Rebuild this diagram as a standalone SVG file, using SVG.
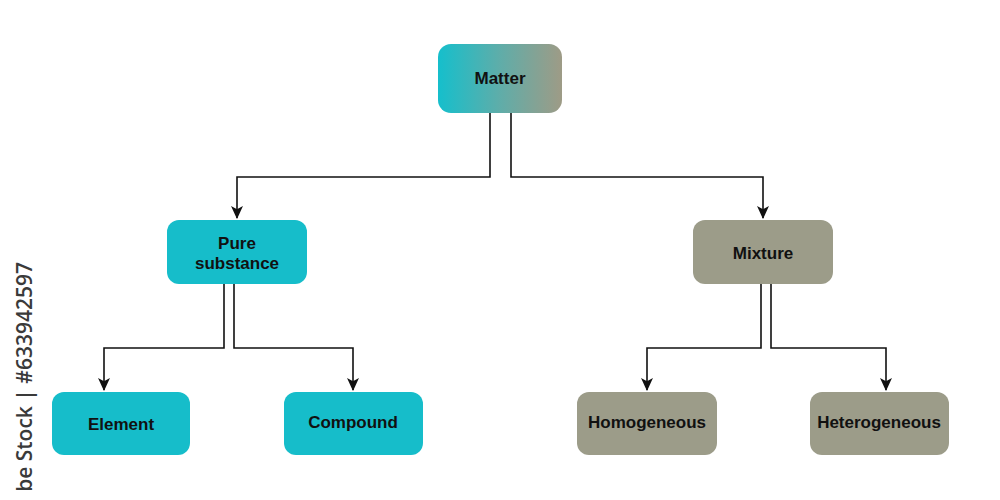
<svg xmlns="http://www.w3.org/2000/svg" width="1000" height="500" viewBox="0 0 1000 500">
  <defs>
    <linearGradient id="gMatter" x1="0" y1="0" x2="1" y2="0">
      <stop offset="0" stop-color="#15bfcc"/>
      <stop offset="0.5" stop-color="#5fada9"/>
      <stop offset="1" stop-color="#9e9b86"/>
    </linearGradient>
    <marker id="arrow" viewBox="0 0 12 12" refX="11" refY="6" markerWidth="13" markerHeight="13" markerUnits="userSpaceOnUse" orient="auto">
      <path d="M0,0.5 L12,6 L0,11.5 L3,6 Z" fill="#111"/>
    </marker>
  </defs>
  <style>
    .teal { fill: #16bdca; }
    .gray { fill: #9c9c89; }
    .lbl { font-family: "Liberation Sans", Arial, sans-serif; font-weight: bold; font-size: 17px; fill: #111; text-anchor: middle; }
    .conn { fill: none; stroke: #111; stroke-width: 1.6; }
    .wm { font-family: "Open Sans", "DejaVu Sans", sans-serif; font-size: 21px; font-weight: 600; fill: #3a3a3a; text-anchor: end; }
  </style>
  <rect width="1000" height="500" fill="#ffffff"/>

  <g id="connectors">
    <path class="conn" d="M490,113 V177 H237 V218" marker-end="url(#arrow)"/>
    <path class="conn" d="M511,113 V177 H763 V218" marker-end="url(#arrow)"/>
    <path class="conn" d="M224,284 V348 H104 V390" marker-end="url(#arrow)"/>
    <path class="conn" d="M234,284 V348 H353 V390" marker-end="url(#arrow)"/>
    <path class="conn" d="M761,284 V348 H647 V390" marker-end="url(#arrow)"/>
    <path class="conn" d="M771,284 V348 H886 V390" marker-end="url(#arrow)"/>
  </g>

  <g id="matter">
    <rect x="438" y="44" width="124" height="69" rx="13" fill="url(#gMatter)"/>
    <text class="lbl" x="500" y="84">Matter</text>
  </g>
  <g id="pure-substance">
    <rect class="teal" x="167" y="220" width="140" height="64" rx="12"/>
    <text class="lbl" x="237" y="249">Pure</text>
    <text class="lbl" x="237" y="269">substance</text>
  </g>
  <g id="mixture">
    <rect class="gray" x="693" y="220" width="140" height="64" rx="12"/>
    <text class="lbl" x="763" y="259">Mixture</text>
  </g>
  <g id="element">
    <rect class="teal" x="52" y="392" width="138" height="63" rx="12"/>
    <text class="lbl" x="121" y="430">Element</text>
  </g>
  <g id="compound">
    <rect class="teal" x="284" y="392" width="139" height="63" rx="12"/>
    <text class="lbl" x="353" y="428">Compound</text>
  </g>
  <g id="homogeneous">
    <rect class="gray" x="577" y="392" width="140" height="63" rx="12"/>
    <text class="lbl" x="647" y="428">Homogeneous</text>
  </g>
  <g id="heterogeneous">
    <rect class="gray" x="810" y="392" width="139" height="63" rx="12"/>
    <text class="lbl" x="879" y="428">Heterogeneous</text>
  </g>

  <text class="wm" transform="translate(32,262) rotate(-90)">be Stock | #633942597</text>
</svg>
